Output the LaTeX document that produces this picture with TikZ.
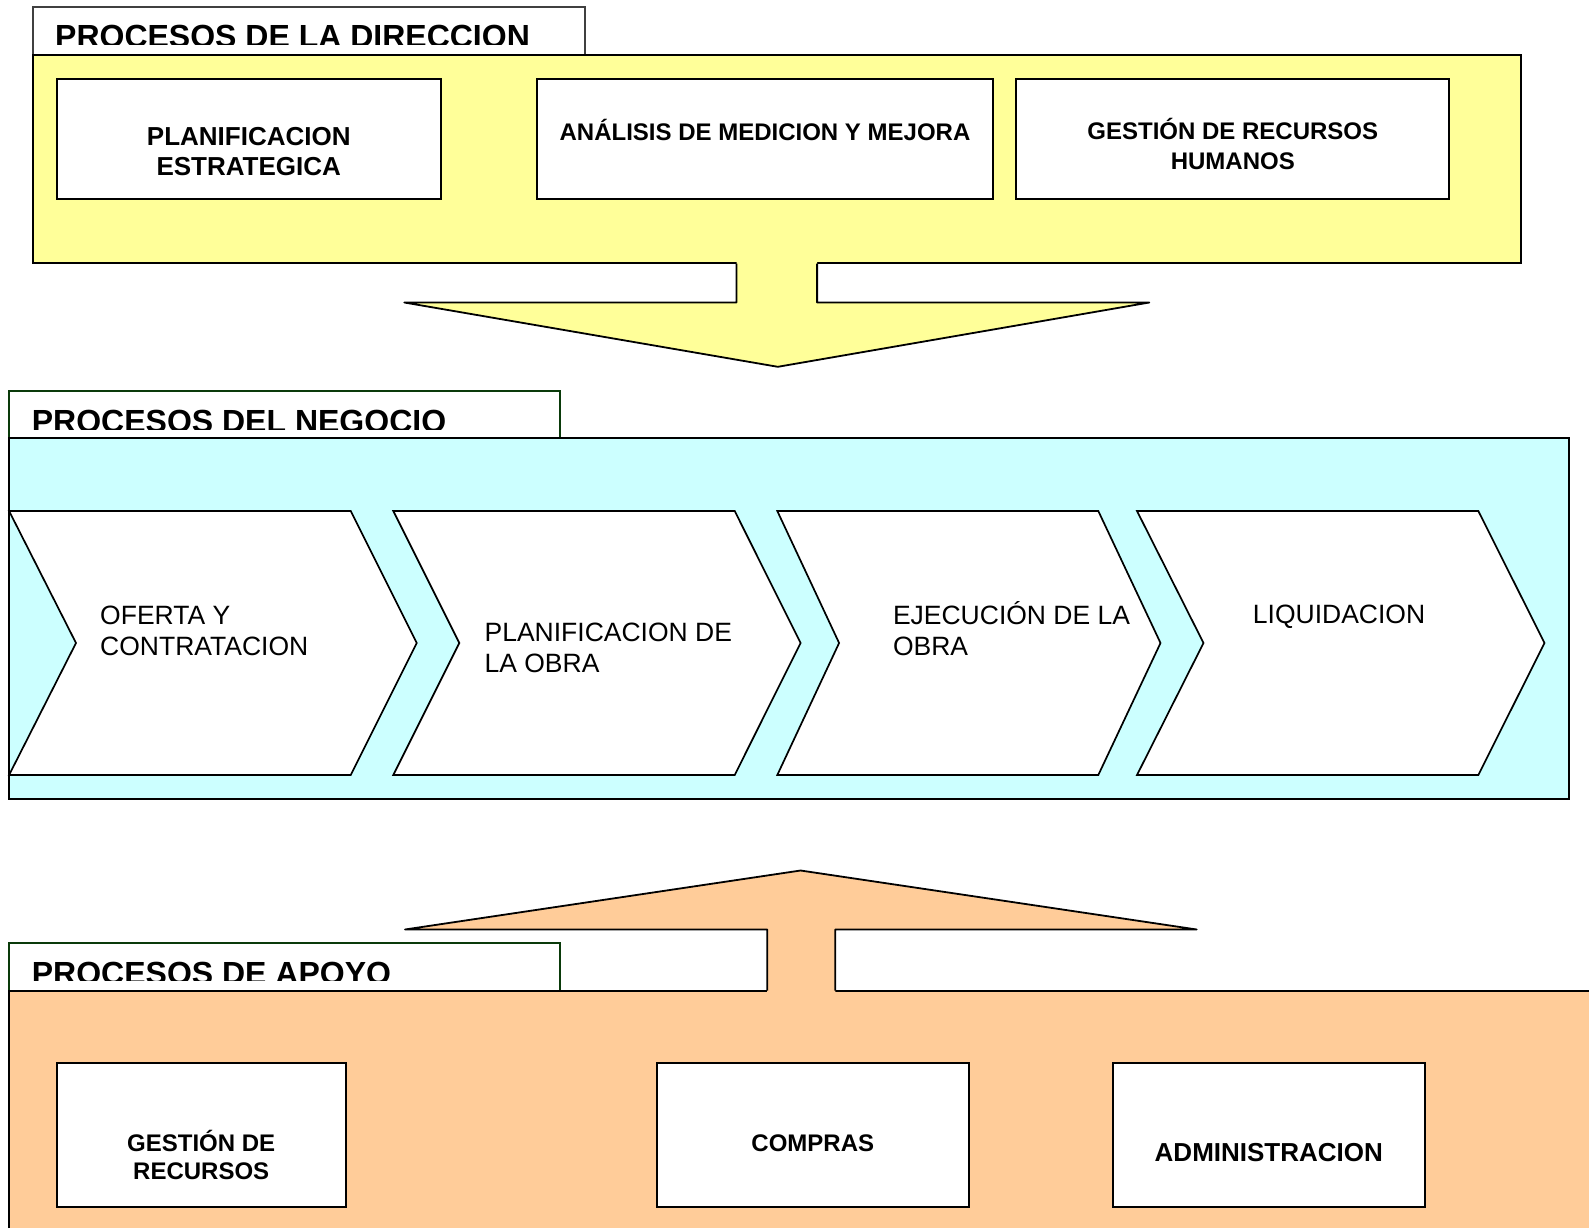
\documentclass[tikz,border=0pt]{standalone}
\usepackage{fontspec}
\setmainfont{Liberation Sans}

\definecolor{dirfill}{HTML}{FFFF99}
\definecolor{negfill}{HTML}{CCFFFF}
\definecolor{apofill}{HTML}{FFCC99}
\definecolor{tabgray}{HTML}{404040}
\definecolor{tabgreen}{HTML}{0A3A0A}

\tikzset{
  panel/.style={draw=black, line width=2pt},
  tabbox/.style={draw=#1, fill=white, line width=2pt},
  procbox/.style={draw=black, fill=white, line width=2pt, inner sep=0pt,
    outer sep=0pt, anchor=north west},
  chev/.style={draw=black, fill=white, line width=1.7pt, line join=miter},
  blockarrow/.style={draw=black, line width=1.8pt, line join=round},
  tabtitle/.style={anchor=base west, inner sep=0pt,
    font=\bfseries\fontsize{32}{38}\selectfont},
  boxlabel/.style={anchor=base, inner sep=0pt, align=center,
    font=\bfseries\fontsize{24}{29}\selectfont},
  biglabel/.style={anchor=base, inner sep=0pt, align=center,
    font=\bfseries\fontsize{26}{30}\selectfont},
  chevlabel/.style={anchor=base west, inner sep=0pt, align=left,
    font=\fontsize{26.5}{31}\selectfont},
}

% one step of the value chain: left edge, notch, right edge, tip
\newcommand\chevstep[4]{%
  \draw[chev] (#1,511) -- (#3,511) -- (#4,643) -- (#3,775) -- (#1,775) -- (#2,643) -- cycle;}

\begin{document}
\begin{tikzpicture}[x=1pt, y=-1pt]
\useasboundingbox (0,0) rectangle (1589,1228);

% ---------------- PROCESOS DE LA DIRECCION ----------------
\draw[tabbox=tabgray] (33.3,6.7) rectangle (585,54.7);
\begin{scope}
  \clip (33.3,6.7) rectangle (585,44.5);
  \node[tabtitle] (tdir) at (55,47.9) {PROCESOS DE LA DIRECCION};
\end{scope}
\fill[dirfill] (33.3,54.7) rectangle (1521,263);
\draw[panel] (33.3,54.7) rectangle (1521,263);

% multi-line labels are placed by the baseline of their last line
\node[procbox, minimum width=384.1pt, minimum height=119.6pt] (pe) at (56.7,79) {};
\node[procbox, minimum width=456.6pt, minimum height=119.6pt] (am) at (536.7,79) {};
\node[procbox, minimum width=432.8pt, minimum height=119.6pt] (gh) at (1016.4,79) {};
\node[biglabel] (pe-t) at (248.75,175) {PLANIFICACION\\ESTRATEGICA};
\node[boxlabel] (am-t) at (765,140) {ANÁLISIS DE MEDICION Y MEJORA};
\node[boxlabel, font=\bfseries\fontsize{24}{29.4}\selectfont] (gh-t) at (1232.8,169) {GESTIÓN DE RECURSOS\\HUMANOS};

% downward block arrow
\coordinate (dA) at (736.5,263.5);
\coordinate (dB) at (817.1,263.5);
\fill[dirfill] (736.5,261) -- (736.5,302.5) -- (404.3,302.5) -- (777.8,366.8)
  -- (1149.3,302.5) -- (817.1,302.5) -- (817.1,261) -- cycle;
\draw[blockarrow] (dA) -- (736.5,302.5) -- (404.3,302.5) -- (777.8,366.8)
  -- (1149.3,302.5) -- (817.1,302.5) -- (dB);

% ---------------- PROCESOS DEL NEGOCIO ----------------
\draw[tabbox=tabgreen] (9.1,391) rectangle (560.4,437.8);
\begin{scope}
  \clip (9.1,391) rectangle (560.4,429);
  \node[tabtitle] (tneg) at (31.7,432.9) {PROCESOS DEL NEGOCIO};
\end{scope}
\fill[negfill] (9.1,437.8) rectangle (1568.7,798.6);
\draw[panel] (9.1,437.8) rectangle (1568.7,798.6);

\chevstep{9.1}{76}{350.7}{416.7}
\chevstep{393.3}{459.3}{734.7}{800.6}
\chevstep{777.3}{839.1}{1098.3}{1160.5}
\chevstep{1137}{1203.5}{1478.3}{1544.5}
\node[chevlabel] (c1) at (100,655) {OFERTA Y\\CONTRATACION};
\node[chevlabel] (c2) at (484.4,672) {PLANIFICACION DE\\LA OBRA};
\node[chevlabel] (c3) at (892.8,655) {EJECUCIÓN DE LA\\OBRA};
\node[chevlabel] (c4) at (1252.7,623.6) {LIQUIDACION};

% ---------------- PROCESOS DE APOYO ----------------
\draw[tabbox=tabgreen] (9.1,943.4) rectangle (560.4,990.5);
\begin{scope}
  \clip (9.1,943.4) rectangle (560.4,980.7);
  \node[tabtitle] (tapo) at (31.7,984.6) {PROCESOS DE APOYO};
\end{scope}
\fill[apofill] (9.1,990.5) rectangle (1589,1228);
\draw[panel] (9.1,1228) -- (9.1,990.5) -- (1589,990.5);

% upward block arrow
\coordinate (uA) at (767.2,990.5);
\coordinate (uB) at (835.3,990.5);
\fill[apofill] (767.2,992.5) -- (767.2,929.5) -- (405,929.5) -- (800.6,870.5)
  -- (1196.7,929.5) -- (835.3,929.5) -- (835.3,992.5) -- cycle;
\draw[blockarrow] (uA) -- (767.2,929.5) -- (405,929.5) -- (800.6,870.5)
  -- (1196.7,929.5) -- (835.3,929.5) -- (uB);

\node[procbox, minimum width=288.9pt, minimum height=144pt] (gr) at (56.7,1063) {};
\node[procbox, minimum width=312.1pt, minimum height=144pt] (co) at (656.7,1063) {};
\node[procbox, minimum width=312.3pt, minimum height=144pt] (ad) at (1112.7,1063) {};
\node[boxlabel, font=\bfseries\fontsize{24}{27.4}\selectfont] (gr-t) at (201.2,1179.1) {GESTIÓN DE\\RECURSOS};
\node[boxlabel] (co-t) at (812.75,1151.7) {COMPRAS};
\node[biglabel] (ad-t) at (1268.8,1161) {ADMINISTRACION};
\end{tikzpicture}
\end{document}
